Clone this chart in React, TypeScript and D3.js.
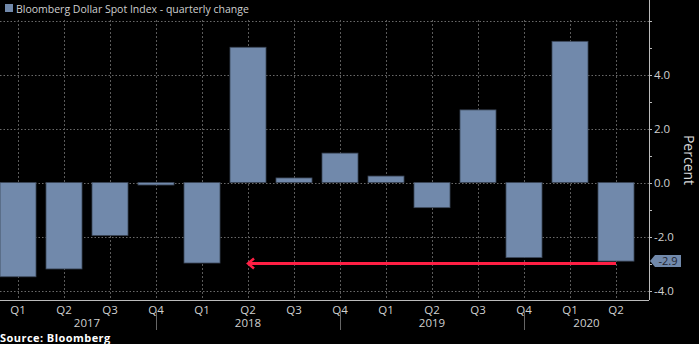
import React from "react";
import * as d3 from "d3";

const quarters = ["Q1","Q2","Q3","Q4","Q1","Q2","Q3","Q4","Q1","Q2","Q3","Q4","Q1","Q2"];
const years = ["2017","2017","2017","2017","2018","2018","2018","2018","2019","2019","2019","2019","2020","2020"];
const values = [-3.49, -3.2, -1.96, -0.09, -2.98, 5.01, 0.17, 1.09, 0.24, -0.93, 2.69, -2.78, 5.23, -2.91];
const yTicks = [-4, -2, 0, 2, 4];
const minorTicks = [-4, -3, -2, -1, 0, 1, 2, 3, 4, 5, 6];
const annotationValue = -3.0;
const lastLabel = "-2.9";

const W = 699, H = 344;
const plotLeft = 0, plotRight = 649, plotTop = 20, plotBottom = 300;
const barColor = "#7189ab";

export default function App() {
  const ids = values.map((_, i) => String(i));
  const x = d3.scaleBand<string>().domain(ids).range([-5, 639]).paddingInner(10 / 46).paddingOuter(5 / 46);
  const y = d3.scaleLinear().domain([-4.35, 6.02]).range([plotBottom, plotTop]);
  const cx = (i: number) => (x(String(i)) as number) + x.bandwidth() / 2;

  const seps: number[] = [];
  quarters.forEach((q, i) => { if (q === "Q4") seps.push(cx(i)); });
  const uniqYears = Array.from(new Set(years));
  const yearLabels = uniqYears.map((yr) => {
    const idx = years.map((v, i) => (v === yr ? i : -1)).filter((i) => i >= 0);
    const prevYearQ4 = seps.filter((s) => s < cx(idx[0]));
    const start = prevYearQ4.length ? prevYearQ4[prevYearQ4.length - 1] : cx(0);
    const nextQ4 = seps.find((s) => s >= cx(idx[0]));
    const end = nextQ4 !== undefined ? nextQ4 : plotRight;
    return { yr, pos: (start + end) / 2 };
  });

  const font = "'Open Sans', 'DejaVu Sans', sans-serif";
  const redY = y(annotationValue);
  const lastY = y(values[values.length - 1]);
  const arrowX = cx(5);

  return (
    <svg width={W} height={H} style={{ position: "absolute", left: 0, top: 0, background: "#000" }} fontFamily={font}>
      <rect x={0} y={0} width={W} height={H} fill="#000" />
      <rect x={5} y={4} width={8} height={8} fill={barColor} />
      <text x={16} y={12.5} fontSize={10.5} fill="#cfcfcf">Bloomberg Dollar Spot Index - quarterly change</text>

      {[...yTicks, 6].map((t) => (
        <line key={"h" + t} x1={plotLeft} x2={plotRight} y1={Math.round(y(t)) + 0.5} y2={Math.round(y(t)) + 0.5}
          stroke="#6a6a6a" strokeDasharray="1.5,2" strokeWidth={1} />
      ))}
      {values.map((_, i) => (
        <line key={"v" + i} x1={Math.round(cx(i)) + 0.5} x2={Math.round(cx(i)) + 0.5} y1={plotTop} y2={plotBottom}
          stroke="#5a5a5a" strokeDasharray="2,2" strokeWidth={1} />
      ))}

      {values.map((v, i) => (
        <rect key={"b" + i} x={x(String(i)) as number} width={x.bandwidth()}
          y={Math.min(y(v), y(0))} height={Math.abs(y(v) - y(0))}
          fill={barColor} stroke="#3b4658" strokeWidth={0.8} />
      ))}

      <line x1={arrowX} x2={cx(values.length - 1)} y1={redY} y2={redY} stroke="#ff1f44" strokeWidth={3} />
      <polyline points={`${arrowX + 6},${redY - 5} ${arrowX},${redY} ${arrowX + 6},${redY + 5}`} fill="none" stroke="#ff1f44" strokeWidth={2.5} />

      <line x1={plotRight + 0.5} x2={plotRight + 0.5} y1={0} y2={plotBottom} stroke="#bbbbbb" strokeWidth={1} />
      {minorTicks.map((t) => (
        <line key={"mt" + t} x1={plotRight} x2={plotRight + 3} y1={Math.round(y(t)) + 0.5} y2={Math.round(y(t)) + 0.5} stroke="#bbbbbb" />
      ))}
      {yTicks.map((t) => (
        <text key={"yl" + t} x={654} y={y(t) + 4} fontSize={11.5} fill="#d0d0d0">{t.toFixed(1)}</text>
      ))}
      <text transform={`translate(684,160) rotate(90)`} textAnchor="middle" fontSize={14} fill="#d8d8d8">Percent</text>

      <path d={`M${plotRight + 1},${lastY} L${plotRight + 6},${lastY - 6} L${plotRight + 32},${lastY - 6} L${plotRight + 32},${lastY + 6} L${plotRight + 6},${lastY + 6} Z`} fill={barColor} />
      <text x={plotRight + 19} y={lastY + 4} textAnchor="middle" fontSize={11} fill="#1e2430">{lastLabel}</text>

      <line x1={plotLeft} x2={plotRight} y1={plotBottom + 0.5} y2={plotBottom + 0.5} stroke="#bbbbbb" />
      {quarters.map((q, i) => (
        <text key={"q" + i} x={cx(i)} y={313.5} textAnchor="middle" fontSize={11.5} fill="#d0d0d0">{q}</text>
      ))}
      {seps.map((s, i) => (
        <line key={"s" + i} x1={Math.round(s) + 0.5} x2={Math.round(s) + 0.5} y1={312} y2={330} stroke="#666" />
      ))}
      {yearLabels.map((l) => (
        <text key={l.yr} x={l.pos} y={327} textAnchor="middle" fontSize={11.5} fill="#d0d0d0">{l.yr}</text>
      ))}

      <text x={0} y={342} fontSize={11} fontWeight="bold" letterSpacing={0.45} fill="#ffffff">Source: Bloomberg</text>
    </svg>
  );
}
